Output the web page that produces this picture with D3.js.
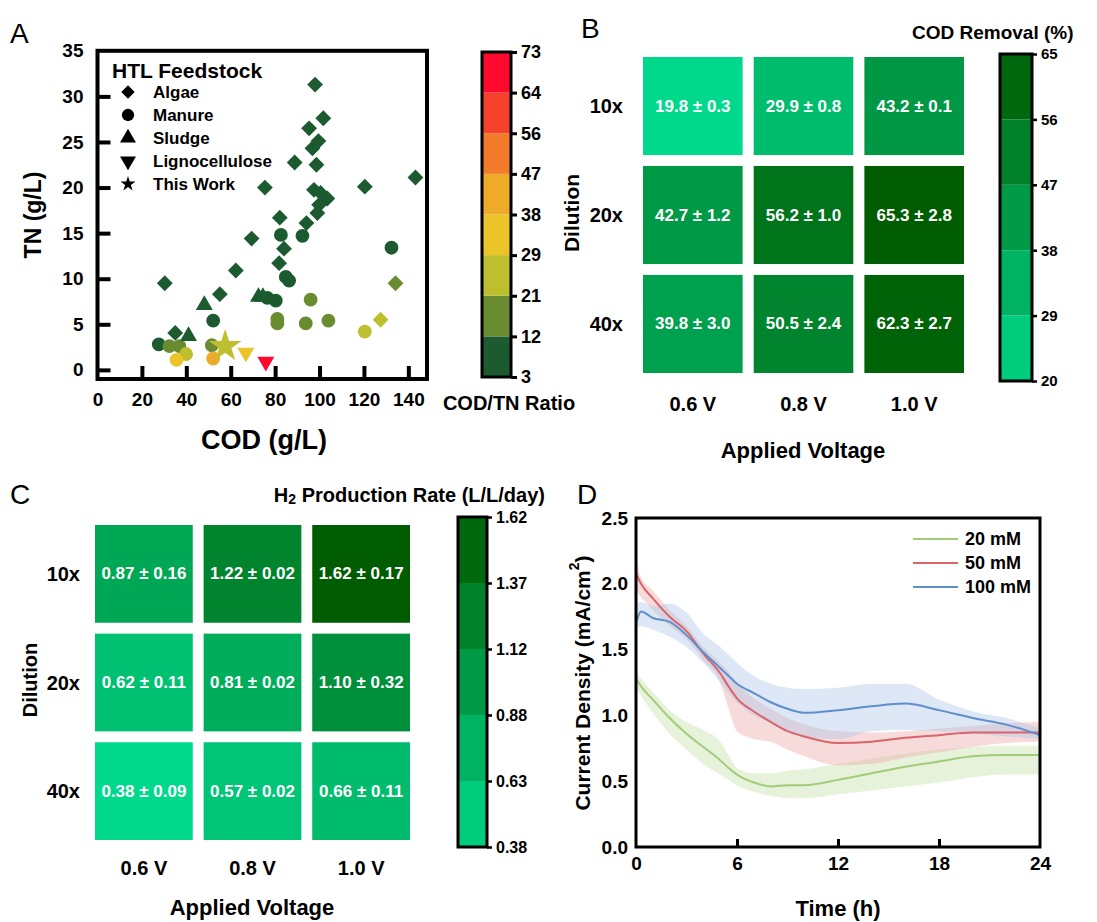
<!DOCTYPE html>
<html>
<head>
<meta charset="utf-8">
<script src="https://cdn.jsdelivr.net/npm/d3@7"></script>
<style>
  body { margin: 0; background: #fff; }
  text { font-family: 'Liberation Sans', Arial, Helvetica, sans-serif; fill: #000; }
</style>
</head>
<body>
<svg id="fig"></svg>
<script>
// ---------- Panel A data: HTL feedstocks, COD and TN (g/L) ----------
const algaeCOD = [98, 101.7, 95.3, 99.5, 96.8, 88.8, 98.6, 75.4, 120.4, 143.2, 97.5, 100.5, 103.5, 99.8, 99, 82.1, 94.1, 69.4, 84, 81.8, 62.3, 30.3, 55.1, 35, 134.2, 127.5];
const algaeTN  = [31.3, 27.6, 26.5, 25.1, 24.3, 22.75, 22.5, 20.0, 20.1, 21.1, 19.75, 19.4, 18.8, 18.1, 17.2, 16.7, 16.1, 14.4, 13.3, 11.7, 10.9, 9.5, 8.3, 4.05, 9.5, 5.5];
const manureCOD = [82.6, 92.3, 84.8, 86.3, 132.4, 76.5, 80.3, 52.1, 27.6, 32.4, 36.9, 39.9, 35.6, 51.5, 52.1, 96, 81, 81, 93.8, 104, 120.4];
const manureTN  = [14.8, 14.7, 10.2, 9.8, 13.4, 7.9, 7.6, 5.4, 2.8, 2.6, 2.6, 1.74, 1.1, 2.7, 1.25, 7.7, 5.6, 5.1, 5.1, 5.4, 4.2];
const sludgeCOD = [48.1, 72.5, 74.5, 41];
const sludgeTN  = [7.1, 8.0, 8.0, 3.7];
const ligCOD = [66.8, 75.8];
const ligTN  = [1.9, 0.9];
const thisCOD = [57.5];
const thisTN  = [2.6];

const codTicks = [0, 20, 40, 60, 80, 100, 120, 140];
const tnTicks = [0, 5, 10, 15, 20, 25, 30, 35];
const ratioTicks = [3, 12, 21, 29, 38, 47, 56, 64, 73];
const ratioColors = ["#1c5a30", "#6a8c30", "#bdbf2e", "#ebc42a", "#eeab2a", "#f27b2a", "#f4432a", "#ff0a2e"];
const feedNames = ["Algae", "Manure", "Sludge", "Lignocellulose", "This Work"];

// ---------- Panels B and C data ----------
const dilutions = ["10x", "20x", "40x"];
const voltages = ["0.6 V", "0.8 V", "1.0 V"];
const codRemoval   = [[19.8, 29.9, 43.2], [42.7, 56.2, 65.3], [39.8, 50.5, 62.3]];
const codRemovalSD = [[0.3, 0.8, 0.1], [1.2, 1.0, 2.8], [3.0, 2.4, 2.7]];
const codBarTicks = [20, 29, 38, 47, 56, 65];
const h2Rate   = [[0.87, 1.22, 1.62], [0.62, 0.81, 1.10], [0.38, 0.57, 0.66]];
const h2RateSD = [[0.16, 0.02, 0.17], [0.11, 0.02, 0.32], [0.09, 0.02, 0.11]];
const h2BarTicks = [0.38, 0.63, 0.88, 1.12, 1.37, 1.62];

// ---------- Panel D data: current density (mA/cm2) ----------
const timeH = [0, 0.3, 1, 2, 3, 4, 5, 5.5, 6, 7, 8, 9, 10, 12, 14, 16, 18, 20, 22, 24];
const cd20   = [1.28, 1.22, 1.12, 0.98, 0.86, 0.76, 0.66, 0.60, 0.55, 0.49, 0.46, 0.47, 0.47, 0.51, 0.56, 0.61, 0.65, 0.69, 0.70, 0.70];
const cd20hi = [1.33, 1.28, 1.18, 1.04, 0.95, 0.89, 0.80, 0.70, 0.60, 0.56, 0.56, 0.58, 0.59, 0.63, 0.67, 0.71, 0.74, 0.76, 0.77, 0.77];
const cd20lo = [1.22, 1.15, 1.02, 0.86, 0.74, 0.63, 0.55, 0.51, 0.47, 0.42, 0.39, 0.37, 0.37, 0.40, 0.43, 0.46, 0.49, 0.53, 0.55, 0.55];
const cd50   = [2.08, 2.00, 1.89, 1.75, 1.64, 1.47, 1.32, 1.22, 1.13, 1.03, 0.95, 0.88, 0.84, 0.79, 0.80, 0.83, 0.85, 0.87, 0.87, 0.87];
const cd50hi = [2.20, 2.05, 1.95, 1.80, 1.68, 1.52, 1.40, 1.33, 1.25, 1.13, 1.05, 0.98, 0.93, 0.88, 0.87, 0.88, 0.90, 0.92, 0.94, 0.95];
const cd50lo = [1.95, 1.90, 1.80, 1.68, 1.58, 1.42, 1.25, 1.05, 0.88, 0.82, 0.80, 0.74, 0.69, 0.62, 0.63, 0.68, 0.72, 0.76, 0.79, 0.80];
const cd100   = [1.70, 1.79, 1.74, 1.71, 1.61, 1.48, 1.36, 1.30, 1.24, 1.17, 1.10, 1.05, 1.02, 1.04, 1.07, 1.09, 1.04, 0.98, 0.93, 0.85];
const cd100hi = [1.85, 1.86, 1.83, 1.85, 1.78, 1.62, 1.52, 1.46, 1.40, 1.30, 1.24, 1.21, 1.20, 1.21, 1.24, 1.24, 1.12, 1.03, 0.98, 0.90];
const cd100lo = [1.65, 1.68, 1.65, 1.60, 1.52, 1.40, 1.25, 1.17, 1.10, 1.00, 0.95, 0.88, 0.84, 0.82, 0.88, 0.89, 0.88, 0.86, 0.84, 0.82];
const seriesNames = ["20 mM", "50 mM", "100 mM"];
const timeTicks = [0, 6, 12, 18, 24];
const cdTicks = [0, 0.5, 1.0, 1.5, 2.0, 2.5];

const F = "'Liberation Sans', Arial, Helvetica, sans-serif";
const svg = d3.select("#fig").attr("width", 1097).attr("height", 922);
svg.append("rect").attr("width", 1097).attr("height", 922).attr("fill", "#fff");

// small text helper
const label = (x, y, s, size, anchor = "middle", rot = 0, weight = "bold") => {
  const t = svg.append("text")
    .attr("x", x).attr("y", y)
    .attr("font-size", size)
    .style("font-weight", weight)
    .attr("text-anchor", anchor)
    .attr("dominant-baseline", "central")
    .text(s);
  if (rot) t.attr("transform", `rotate(${rot},${x},${y})`);
  return t;
};

const styleAxis = (g, size) => {
  g.attr("font-family", F).attr("font-size", size);
  g.select(".domain").remove();
  g.selectAll("text").attr("fill", "#000").style("font-weight", "bold");
  g.selectAll("line").attr("stroke", "#000");
};

// ================= Panel A =================
const xA = d3.scaleLinear().domain([0, 148.4]).range([97.5, 427]);
const yA = d3.scaleLinear().domain([-1, 35]).range([379, 50.8]);
const ratioColor = d3.scaleThreshold().domain(ratioTicks.slice(1, -1)).range(ratioColors);

const gxA = svg.append("g").attr("transform", `translate(0,${yA(-1)})`)
  .call(d3.axisBottom(xA).tickValues(codTicks).tickSizeInner(-13).tickSizeOuter(0).tickPadding(14));
styleAxis(gxA, 19);
gxA.selectAll(".tick line").attr("stroke-width", 4).filter(d => d === 0).remove();

const gyA = svg.append("g").attr("transform", `translate(${xA(0)},0)`)
  .call(d3.axisLeft(yA).tickValues(tnTicks).tickSizeInner(-13).tickSizeOuter(0).tickPadding(14));
styleAxis(gyA, 19);
gyA.selectAll(".tick line").attr("stroke-width", 4).filter(d => d === 35).remove();

svg.append("rect")
  .attr("x", xA(0)).attr("y", yA(35))
  .attr("width", xA(148.4) - xA(0)).attr("height", yA(-1) - yA(35))
  .attr("fill", "none").attr("stroke", "#000").attr("stroke-width", 4);

const shapeA = {
  "Algae": d3.symbol(d3.symbolSquare, 125),
  "Manure": d3.symbol(d3.symbolCircle, 150),
  "Sludge": d3.symbol(d3.symbolTriangle, 125),
  "Lignocellulose": d3.symbol(d3.symbolTriangle, 125),
  "This Work": d3.symbol(d3.symbolStar, 330)
};
const rotA = { "Algae": 45, "Manure": 0, "Sludge": 0, "Lignocellulose": 180, "This Work": 0 };

const plotGroup = (name, cod, tn) => {
  const pts = cod.map((c, i) => ({ c, n: tn[i] }));
  svg.append("g").selectAll("path").data(pts).enter().append("path")
    .attr("d", shapeA[name]())
    .attr("transform", d => `translate(${xA(d.c)},${yA(d.n)}) rotate(${rotA[name]})`)
    .attr("fill", d => ratioColor(Math.min(d.c / d.n, 72.9)));
};
plotGroup("Algae", algaeCOD, algaeTN);
plotGroup("Manure", manureCOD, manureTN);
plotGroup("Sludge", sludgeCOD, sludgeTN);
plotGroup("Lignocellulose", ligCOD, ligTN);
plotGroup("This Work", thisCOD, thisTN);

// legend
label(112, 70, "HTL Feedstock", 21, "start");
const legShape = {
  "Algae": d3.symbol(d3.symbolSquare, 90),
  "Manure": d3.symbol(d3.symbolCircle, 120),
  "Sludge": d3.symbol(d3.symbolTriangle, 110),
  "Lignocellulose": d3.symbol(d3.symbolTriangle, 110),
  "This Work": d3.symbol(d3.symbolStar, 70)
};
feedNames.forEach((nm, i) => {
  const y = 92 + i * 23;
  svg.append("path").attr("d", legShape[nm]())
    .attr("transform", `translate(128,${y}) rotate(${rotA[nm]})`).attr("fill", "#000");
  label(153, y, nm, 17, "start");
});

// colour bar A
const yBarA = d3.scalePoint().domain(ratioTicks).range([377, 52]);
ratioColors.forEach((c, i) => {
  svg.append("rect").attr("x", 482).attr("width", 29)
    .attr("y", yBarA(ratioTicks[i + 1])).attr("height", yBarA(ratioTicks[i]) - yBarA(ratioTicks[i + 1]))
    .attr("fill", c);
});
svg.append("rect").attr("x", 482).attr("y", 52).attr("width", 29).attr("height", 325)
  .attr("fill", "none").attr("stroke", "#000").attr("stroke-width", 3);
const gBarA = svg.append("g").attr("transform", "translate(511,0)")
  .call(d3.axisRight(yBarA).tickSizeInner(6).tickSizeOuter(0).tickPadding(4));
styleAxis(gBarA, 18);
gBarA.selectAll(".tick line").attr("stroke-width", 3);
label(509, 403, "COD/TN Ratio", 20);
label(264, 440, "COD (g/L)", 27);
label(33, 215, "TN (g/L)", 23, "middle", -90);
label(10, 33, "A", 28, "start", 0, "normal");

// ================= Heatmap helper (B, C) =================
const heatmap = (opt) => {
  const xs = d3.scaleBand().domain(voltages).range(opt.xr).paddingInner(0.1);
  const ys = d3.scaleBand().domain(dilutions).range(opt.yr).paddingInner(0.1);
  const col = d3.scaleLinear().domain(opt.dom).range(["#00d88c", "#005c00"]).clamp(true);
  const cells = [];
  dilutions.forEach((dl, r) => voltages.forEach((v, c) =>
    cells.push({ dl, v, m: opt.mean[r][c], s: opt.sd[r][c] })));
  const g = svg.append("g");
  g.selectAll("rect").data(cells).enter().append("rect")
    .attr("x", d => xs(d.v)).attr("y", d => ys(d.dl))
    .attr("width", xs.bandwidth()).attr("height", ys.bandwidth())
    .attr("fill", d => col(d.m));
  g.selectAll("text").data(cells).enter().append("text")
    .attr("x", d => xs(d.v) + xs.bandwidth() / 2).attr("y", d => ys(d.dl) + ys.bandwidth() / 2)
    .attr("text-anchor", "middle").attr("dominant-baseline", "central")
    .attr("font-size", opt.cellFont).style("font-weight", "bold").style("fill", "#fff")
    .text(d => `${opt.fmt(d.m)} ± ${opt.fmt(d.s)}`);
  dilutions.forEach(dl => label(opt.rowX, ys(dl) + ys.bandwidth() / 2, dl, 20, "end"));
  voltages.forEach(v => label(xs(v) + xs.bandwidth() / 2, opt.colY, v, 20));
  // banded colour bar
  const yb = d3.scalePoint().domain(opt.ticks).range(opt.barY);
  opt.ticks.slice(0, -1).forEach((t, i) => {
    const t2 = opt.ticks[i + 1];
    svg.append("rect").attr("x", opt.barX).attr("width", opt.barW)
      .attr("y", yb(t2)).attr("height", yb(t) - yb(t2))
      .attr("fill", col((t + t2) / 2));
  });
  svg.append("rect").attr("x", opt.barX).attr("y", opt.barY[1])
    .attr("width", opt.barW).attr("height", opt.barY[0] - opt.barY[1])
    .attr("fill", "none").attr("stroke", "#000").attr("stroke-width", 3);
  const gb = svg.append("g").attr("transform", `translate(${opt.barX + opt.barW},0)`)
    .call(d3.axisRight(yb).tickSizeInner(5).tickSizeOuter(0).tickPadding(4).tickFormat(opt.tickFmt));
  styleAxis(gb, opt.barFont);
  gb.selectAll(".tick line").attr("stroke-width", 2.5);
  return xs;
};

// ================= Panel B =================
heatmap({
  xr: [643, 964], yr: [57, 373], dom: [20, 65], mean: codRemoval, sd: codRemovalSD,
  fmt: d3.format(".1f"), cellFont: 17, rowX: 623, colY: 404,
  ticks: codBarTicks, barY: [381, 54], barX: 1000, barW: 32, barFont: 15, tickFmt: d3.format("d")
});
label(912, 32, "COD Removal (%)", 19, "start");
label(803, 450, "Applied Voltage", 22);
label(571, 213, "Dilution", 21, "middle", -90);
label(581, 28, "B", 28, "start", 0, "normal");

// ================= Panel C =================
heatmap({
  xr: [95, 410], yr: [525, 840], dom: [0.38, 1.62], mean: h2Rate, sd: h2RateSD,
  fmt: d3.format(".2f"), cellFont: 17, rowX: 80, colY: 868,
  ticks: h2BarTicks, barY: [847, 517], barX: 458, barW: 29, barFont: 16, tickFmt: d3.format(".2f")
});
const h2t = label(545, 495, "H", 20, "end");
h2t.append("tspan").attr("font-size", 14).attr("baseline-shift", "-25%").text("2");
h2t.append("tspan").text(" Production Rate (L/L/day)");
label(252, 907, "Applied Voltage", 22);
label(30, 680, "Dilution", 20, "middle", -90);
label(10, 494, "C", 28, "start", 0, "normal");

// ================= Panel D =================
const xD = d3.scaleLinear().domain([0, 24]).range([636, 1040]);
const yD = d3.scaleLinear().domain([0, 2.5]).range([847, 518]);

const gxD = svg.append("g").attr("transform", `translate(0,${yD(0)})`)
  .call(d3.axisBottom(xD).tickValues(timeTicks).tickSizeInner(-8).tickSizeOuter(0).tickPadding(10));
styleAxis(gxD, 19);
gxD.selectAll(".tick line").attr("stroke-width", 3).filter(d => d === 0 || d === 24).remove();
const gyD = svg.append("g").attr("transform", `translate(${xD(0)},0)`)
  .call(d3.axisLeft(yD).tickValues(cdTicks).tickSizeInner(0).tickSizeOuter(0).tickPadding(8).tickFormat(d3.format(".1f")));
styleAxis(gyD, 19);

const seriesD = [
  { name: seriesNames[0], m: cd20, lo: cd20lo, hi: cd20hi, line: "#a3cc78", band: "#c4dea6", op: 0.4 },
  { name: seriesNames[1], m: cd50, lo: cd50lo, hi: cd50hi, line: "#d9656a", band: "#eca4a4", op: 0.4 },
  { name: seriesNames[2], m: cd100, lo: cd100lo, hi: cd100hi, line: "#5e8fcc", band: "#a9c4e8", op: 0.4 }
];
const areaD = d3.area().x(d => xD(d.t)).y0(d => yD(d.lo)).y1(d => yD(d.hi)).curve(d3.curveMonotoneX);
const lineD = d3.line().x(d => xD(d.t)).y(d => yD(d.m)).curve(d3.curveMonotoneX);
seriesD.forEach(s => {
  const pts = timeH.map((t, i) => ({ t, m: s.m[i], lo: s.lo[i], hi: s.hi[i] }));
  svg.append("path").datum(pts).attr("d", areaD).attr("fill", s.band).attr("fill-opacity", s.op);
});
seriesD.forEach(s => {
  const pts = timeH.map((t, i) => ({ t, m: s.m[i] }));
  svg.append("path").datum(pts).attr("d", lineD).attr("fill", "none")
    .attr("stroke", s.line).attr("stroke-width", 2);
});
svg.append("rect").attr("x", xD(0)).attr("y", yD(2.5))
  .attr("width", xD(24) - xD(0)).attr("height", yD(0) - yD(2.5))
  .attr("fill", "none").attr("stroke", "#000").attr("stroke-width", 3);

seriesD.forEach((s, i) => {
  const y = 539 + i * 24;
  svg.append("line").attr("x1", 913).attr("x2", 958).attr("y1", y).attr("y2", y)
    .attr("stroke", s.line).attr("stroke-width", 2);
  label(965, y, s.name, 18, "start");
});

label(838, 908, "Time (h)", 22);
const cdt = label(582, 683, "Current Density (mA/cm", 21, "middle", -90);
cdt.append("tspan").attr("font-size", 14).attr("baseline-shift", "super").text("2");
cdt.append("tspan").text(")");
label(577, 494, "D", 28, "start", 0, "normal");
</script>
</body>
</html>
